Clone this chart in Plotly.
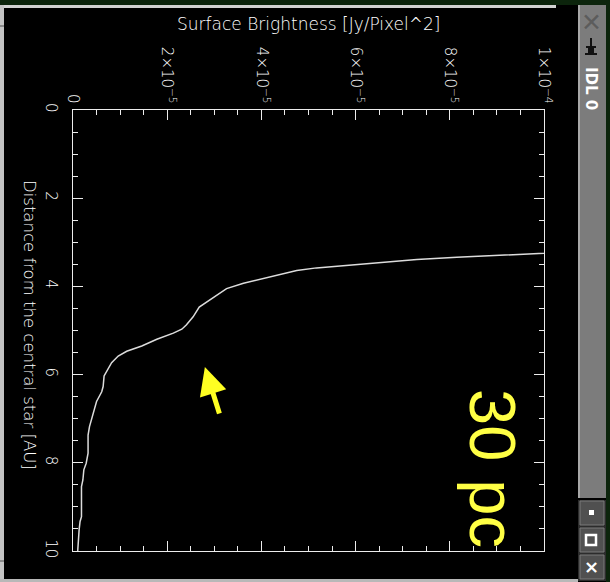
import plotly.graph_objects as go

# ---- data ----
distance_au = [3.10, 3.24, 3.27, 3.34, 3.39, 3.45, 3.51, 3.58, 3.64, 3.83, 3.93, 4.05, 4.20,
               4.41, 4.47, 4.69, 4.87, 4.97, 5.06, 5.20, 5.35, 5.47, 5.58, 5.73, 5.90,
               6.03, 6.27, 6.39, 6.61, 6.80, 7.03, 7.18, 7.37, 7.78, 8.01, 8.16, 8.39,
               8.54, 9.22, 9.33, 9.52, 9.82, 10.0]
brightness = [1.30e-4, 1.00e-4, 9.42e-5, 8.15e-5, 7.30e-5, 6.59e-5, 5.81e-5, 5.17e-5, 4.75e-5,
              4.04e-5, 3.62e-5, 3.26e-5, 3.05e-5, 2.77e-5, 2.68e-5, 2.55e-5, 2.41e-5,
              2.31e-5, 2.13e-5, 1.78e-5, 1.46e-5, 1.14e-5, 9.6e-6, 8.2e-6, 7.3e-6,
              6.6e-6, 6.4e-6, 6.1e-6, 5.0e-6, 4.5e-6, 4.0e-6, 3.5e-6, 3.2e-6, 3.2e-6,
              2.8e-6, 2.3e-6, 2.1e-6, 1.8e-6, 1.8e-6, 1.5e-6, 1.3e-6, 1.1e-6, 1.0e-6]

x_tickvals = [0, 2e-5, 4e-5, 6e-5, 8e-5, 1e-4]
x_ticktext = ["0", "2×10<sup>−5</sup>", "4×10<sup>−5</sup>", "6×10<sup>−5</sup>",
              "8×10<sup>−5</sup>", "1×10<sup>−4</sup>"]
y_tickvals = [0, 2, 4, 6, 8, 10]
y_ticktext = ["0", "2", "4", "6", "8", "10"]

x_title = "Surface Brightness [Jy/Pixel^2]"
y_title = "Distance from the central star [AU]"
label_text = "30 pc"
arrow_tip = (2.8e-5, 5.83)

# ---- layout geometry ----
W, H = 610, 582
L, R, T, B = 73, 544, 110, 551
FG = "#ececec"
TXT = "#ffffff"
FONT = "DejaVu Sans"


def px(x):
    return (x - L) / (R - L)


def py(y):
    return (B - y) / (B - T)


fig = go.Figure()
fig.add_trace(go.Scatter(x=brightness, y=distance_au, mode="lines",
                         line=dict(color="#dcdcdc", width=1.5),
                         hoverinfo="skip", showlegend=False))

axis_common = dict(showgrid=False, zeroline=False, showline=True, linecolor=FG,
                   linewidth=1.4, ticks="inside", tickcolor=FG, tickwidth=1.4,
                   ticklen=10, mirror="ticks", tickangle=90,
                   tickfont=dict(family=FONT, size=15, color=TXT, weight=200))

fig.update_layout(
    width=W, height=H,
    margin=dict(l=L, r=W - R, t=T, b=H - B, pad=0),
    paper_bgcolor="#000000", plot_bgcolor="#000000",
    xaxis=dict(range=[0, 1e-4], side="top", tickvals=x_tickvals, ticktext=x_ticktext,
               minor=dict(dtick=5e-6, ticklen=5, tickcolor=FG, tickwidth=1.2, ticks="inside"),
               **axis_common),
    yaxis=dict(range=[10, 0], tickvals=y_tickvals, ticktext=y_ticktext,
               ticklabelstandoff=8,
               minor=dict(dtick=0.5, ticklen=5, tickcolor=FG, tickwidth=1.2, ticks="inside"),
               **axis_common),
    showlegend=False,
)

ann = []
ann.append(dict(text=x_title, xref="paper", yref="paper", x=0.5, y=py(24),
                showarrow=False, xanchor="center", yanchor="middle",
                font=dict(family=FONT, size=17, color=TXT, weight=200)))
ann.append(dict(text=y_title, xref="paper", yref="paper", x=px(30), y=py(325),
                showarrow=False, xanchor="center", yanchor="middle", textangle=90,
                font=dict(family=FONT, size=16.5, color=TXT, weight=200)))
ann.append(dict(text=label_text, xref="paper", yref="paper", x=px(493), y=py(468),
                showarrow=False, xanchor="center", yanchor="middle", textangle=90,
                font=dict(family="Liberation Sans", size=65, color="#ffff44")))
ann.append(dict(text="", x=arrow_tip[0], y=arrow_tip[1], xref="x", yref="y",
                showarrow=True, ax=15, ay=48, arrowhead=2, arrowsize=1.1,
                arrowwidth=5, arrowcolor="#ffff22", standoff=0))
# window title bar text and icons
ann.append(dict(text="<b>IDL 0</b>", xref="paper", yref="paper", x=px(591), y=py(88),
                showarrow=False, textangle=90, xanchor="center", yanchor="middle",
                font=dict(family="DejaVu Sans", size=15, color="#ffffff")))
ann.append(dict(text="✕", xref="paper", yref="paper", x=px(591), y=py(22),
                showarrow=False, xanchor="center", yanchor="middle",
                font=dict(family="DejaVu Sans", size=25, color="#5c5c5c")))
ann.append(dict(text="<b>×</b>", xref="paper", yref="paper", x=px(591), y=py(566),
                showarrow=False, xanchor="center", yanchor="middle",
                font=dict(family="DejaVu Sans", size=18, color="#ffffff")))

shapes = []


def rect(x0, y0, x1, y1, fill, line=None, lw=0):
    shapes.append(dict(type="rect", xref="paper", yref="paper",
                       x0=px(x0), x1=px(x1), y0=py(y1), y1=py(y0),
                       fillcolor=fill, line=dict(color=line or fill, width=lw),
                       layer="above"))


# outer green desktop strips
rect(0, 0, 610, 5, "#0c240c")
rect(606, 0, 610, 582, "#0c240c")
# light frame lines
rect(0, 5, 556, 8, "#d2d2d2")
rect(0, 5, 4, 582, "#c4c4c4")
rect(0, 25, 4, 27, "#8a8a8a")
rect(0, 560, 4, 562, "#8a8a8a")
rect(0, 579, 578, 582, "#b8b8b8")
# title bar
rect(578, 5, 606, 498, "#7c7c7c")
rect(578, 5, 580, 498, "#a8a8a8")
# buttons
for y0 in (500, 527, 554):
    rect(578, y0, 606, y0 + 27, "#2c2c2c")
    rect(580, y0 + 1, 604, y0 + 25, "#505050", "#7a7a7a", 1)
rect(589, 510, 594, 515, "#ffffff")
rect(586, 535, 596, 545, "rgba(0,0,0,0)", "#ffffff", 2.5)
# pin icon
rect(590, 38, 592, 46, "#111111")
rect(586, 46, 596, 48, "#111111")
rect(588, 48, 594, 53, "#111111")
rect(585, 53, 597, 55, "#111111")

fig.update_layout(annotations=ann, shapes=shapes)
fig.write_html("out.html")
